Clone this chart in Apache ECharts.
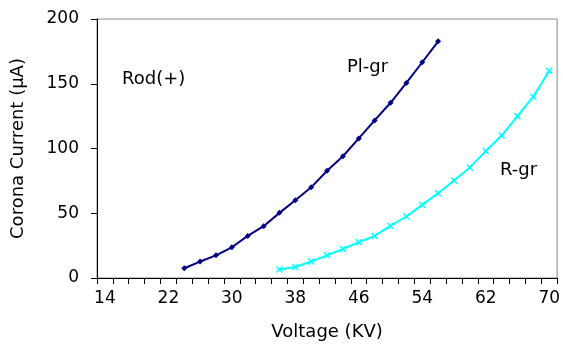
<!DOCTYPE html>
<html>
<head>
<meta charset="utf-8">
<script src="https://cdn.jsdelivr.net/npm/echarts@6/dist/echarts.min.js"></script>
<style>html,body{margin:0;padding:0;background:#fff}#c{width:563px;height:347px}</style>
</head>
<body>
<div id="c"></div>
<script>
const voltages = [14,16,18,20,22,24,26,28,30,32,34,36,38,40,42,44,46,48,50,52,54,56,58,60,62,64,66,68,70];
const plgrVoltage = [24,26,28,30,32,34,36,38,40,42,44,46,48,50,52,54,56];
const plgrCurrent = [7.5,12.7,17.5,23.7,32.5,40,50.3,60,70,82.8,94,107.8,121.7,135.3,150.6,166.6,182.8];
const rgrVoltage = [36,38,40,42,44,46,48,50,52,54,56,58,60,62,64,66,68,70];
const rgrCurrent = [6.5,8.5,12.7,17.5,22.4,27.6,32.5,40.2,47.5,56.5,65.5,75.3,85.4,98,110,125,140,160];

function align(vs, cs) {
  return voltages.map(v => { const i = vs.indexOf(v); return i >= 0 ? cs[i] : null; });
}
const FONT = 'DejaVu Sans';
const chart = echarts.init(document.getElementById('c'), null, {renderer: 'canvas'});
chart.setOption({
  animation: false,
  backgroundColor: '#fff',
  grid: {left: 97, right: 5, top: 19, bottom: 69, show: true, borderColor: '#888', borderWidth: 1},
  xAxis: {
    type: 'category',
    data: voltages.map(String),
    boundaryGap: true,
    name: 'Voltage (KV)',
    nameLocation: 'middle',
    nameGap: 45,
    nameTextStyle: {fontFamily: FONT, fontSize: 18, color: '#000'},
    axisLine: {lineStyle: {color: '#000', width: 1}},
    axisTick: {show: true, interval: 0, length: 6, alignWithLabel: false, lineStyle: {color: '#000'}},
    axisLabel: {interval: 3, margin: 12, fontFamily: FONT, fontSize: 17, color: '#000'},
    splitLine: {show: false}
  },
  yAxis: {
    type: 'value',
    min: 0, max: 200, interval: 50,
    name: 'Corona Current (\u03bcA)',
    nameLocation: 'middle',
    nameGap: 70,
    nameTextStyle: {fontFamily: FONT, fontSize: 18, color: '#000'},
    axisLine: {show: true, lineStyle: {color: '#000', width: 1}},
    axisTick: {show: true, length: 6, lineStyle: {color: '#000'}},
    axisLabel: {margin: 18, fontFamily: FONT, fontSize: 17, color: '#000'},
    splitLine: {show: false}
  },
  series: [
    {
      name: 'Pl-gr', type: 'line',
      data: align(plgrVoltage, plgrCurrent),
      symbol: 'diamond', symbolSize: 6, showSymbol: true, connectNulls: false,
      lineStyle: {color: '#000080', width: 2},
      itemStyle: {color: '#000080'}
    },
    {
      name: 'R-gr', type: 'line',
      data: align(rgrVoltage, rgrCurrent),
      symbol: 'path://M0,0L10,10M10,0L0,10', symbolSize: 6, showSymbol: true,
      lineStyle: {color: '#00FFFF', width: 2},
      itemStyle: {color: '#00FFFF', borderColor: '#00FFFF', borderWidth: 1.5}
    }
  ],
  graphic: [
    {type: 'text', left: 122, top: 70, style: {text: 'Rod(+)', font: '18px "DejaVu Sans"', fill: '#000'}},
    {type: 'text', left: 347, top: 58, style: {text: 'Pl-gr', font: '18px "DejaVu Sans"', fill: '#000'}},
    {type: 'text', left: 500, top: 161, style: {text: 'R-gr', font: '18px "DejaVu Sans"', fill: '#000'}}
  ]
});
</script>
</body>
</html>
